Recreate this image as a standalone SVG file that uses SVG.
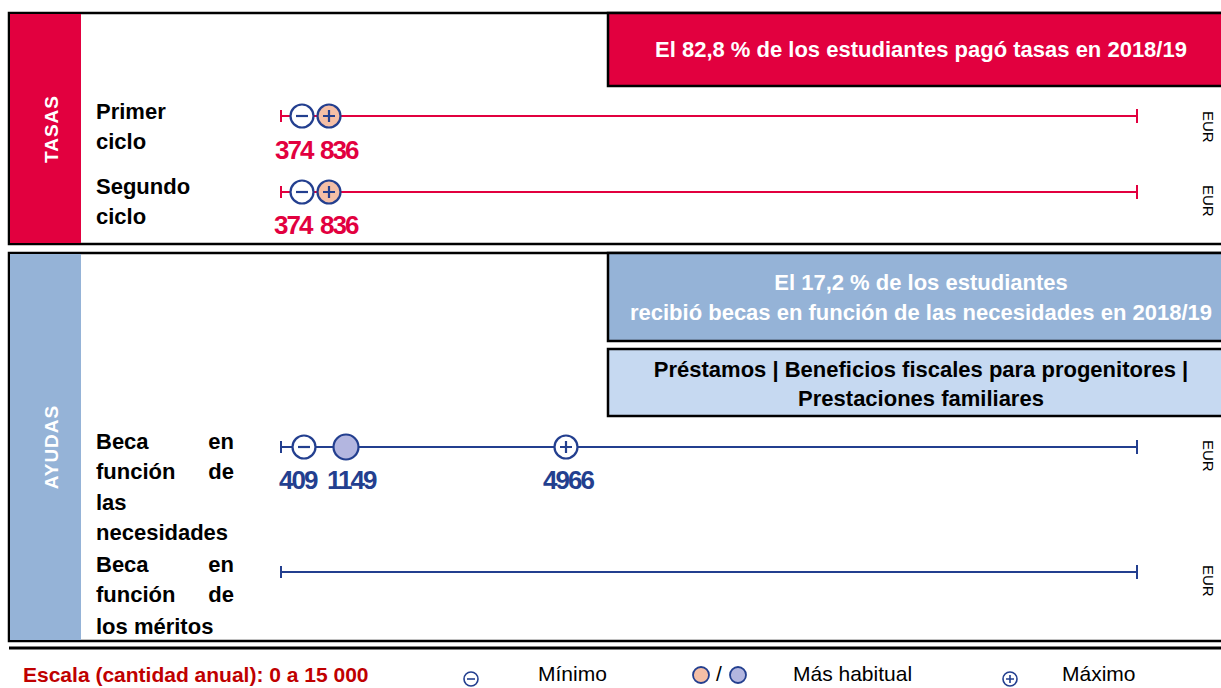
<svg xmlns="http://www.w3.org/2000/svg" width="1221" height="688" viewBox="0 0 1221 688">
<style>
.frame{stroke:#000;stroke-width:2.5}
.white{fill:#fff}
.red{fill:#E2003F}
.blue{fill:#95B3D7}
.light{fill:#C6D9F1}
.lbl{font-family:"Liberation Sans",Arial,sans-serif;font-weight:bold;font-size:22px;fill:#000}
.side{font-family:"Liberation Sans",Arial,sans-serif;font-weight:bold;font-size:19px;fill:#fff;letter-spacing:1px}
.callw{font-family:"Liberation Sans",Arial,sans-serif;font-weight:bold;font-size:22px;fill:#fff}
.callb{font-family:"Liberation Sans",Arial,sans-serif;font-weight:bold;font-size:22px;fill:#000}
.numr{font-family:"Liberation Sans",Arial,sans-serif;font-weight:bold;font-size:26px;fill:#E2003F;letter-spacing:-2px}
.numb{font-family:"Liberation Sans",Arial,sans-serif;font-weight:bold;font-size:26px;fill:#233F8F;letter-spacing:-2px}
.eur{font-family:"Liberation Sans",Arial,sans-serif;font-size:15px;fill:#000}
.leg{font-family:"Liberation Sans",Arial,sans-serif;font-size:21px;fill:#000}
.scale{font-family:"Liberation Sans",Arial,sans-serif;font-weight:bold;font-size:21px;fill:#C00000}
.lr{stroke:#E2003F;stroke-width:2;fill:none}
.lb{stroke:#233F8F;stroke-width:2;fill:none}
.cmin{fill:#fff;stroke:#233F8F;stroke-width:2.2}
.cmaxr{fill:#F5BFA6;stroke:#233F8F;stroke-width:2.2}
.cmaxb{fill:#fff;stroke:#233F8F;stroke-width:2.2}
.cmode{fill:#B3B6E0;stroke:#233F8F;stroke-width:2.2}
.sign{stroke:#233F8F;stroke-width:2.2;fill:none}
</style>

<g id="tasas-panel">
<rect x="9" y="13" width="1216" height="231" class="frame white"/>
<rect x="10" y="14" width="71" height="229" class="red"/>
<text class="side" transform="translate(58,129) rotate(-90)" text-anchor="middle">TASAS</text>
</g>

<g id="tasas-callout">
<rect x="608" y="13" width="617" height="73" class="frame red"/>
<text class="callw" x="921" y="57" text-anchor="middle">El 82,8 % de los estudiantes pagó tasas en 2018/19</text>
</g>

<g id="ayudas-panel">
<rect x="9" y="253" width="1216" height="388" class="frame white"/>
<rect x="10" y="254" width="71" height="386" class="blue"/>
<text class="side" transform="translate(58,447) rotate(-90)" text-anchor="middle">AYUDAS</text>
</g>

<g id="ayudas-callout">
<rect x="608" y="253" width="617" height="88" class="frame blue"/>
<text class="callw" x="921" y="290" text-anchor="middle">El 17,2 % de los estudiantes</text>
<text class="callw" x="921" y="320" text-anchor="middle">recibió becas en función de las necesidades en 2018/19</text>
</g>

<g id="otras-ayudas">
<rect x="608" y="349" width="617" height="67" class="frame light"/>
<text class="callb" x="921" y="377" text-anchor="middle">Préstamos | Beneficios fiscales para progenitores |</text>
<text class="callb" x="921" y="406" text-anchor="middle">Prestaciones familiares</text>
</g>

<line x1="9" y1="648" x2="1221" y2="648" stroke="#000" stroke-width="3"/>

<g id="connectors">
<path class="lr" d="M281 116H1137M281 110V122M1137 109V123"/>
<path class="lr" d="M281 192H1137M281 186V198M1137 185V199"/>
<path class="lb" d="M281 447H1137M281 441V453M1137 440V454"/>
<path class="lb" d="M281 572H1137M281 566V578M1137 565V579"/>
</g>

<g id="primer-ciclo">
<text class="lbl" x="96" y="119">Primer</text>
<text class="lbl" x="96" y="149">ciclo</text>
<circle class="cmin" cx="302" cy="116" r="11.5"/>
<path class="sign" d="M296 116H308"/>
<circle class="cmaxr" cx="329" cy="116" r="11.5"/>
<path class="sign" d="M323 116H335M329 110V122"/>
<text class="numr" x="275" y="159">374</text>
<text class="numr" x="320" y="159">836</text>
<text class="eur" transform="translate(1203,111) rotate(90)">EUR</text>
</g>

<g id="segundo-ciclo">
<text class="lbl" x="96" y="194">Segundo</text>
<text class="lbl" x="96" y="224">ciclo</text>
<circle class="cmin" cx="302" cy="192" r="11.5"/>
<path class="sign" d="M296 192H308"/>
<circle class="cmaxr" cx="329" cy="192" r="11.5"/>
<path class="sign" d="M323 192H335M329 186V198"/>
<text class="numr" x="274" y="234">374</text>
<text class="numr" x="320" y="234">836</text>
<text class="eur" transform="translate(1203,185) rotate(90)">EUR</text>
</g>

<g id="beca-necesidades">
<text class="lbl" x="96" y="449">Beca</text>
<text class="lbl" x="234" y="449" text-anchor="end">en</text>
<text class="lbl" x="96" y="479">función</text>
<text class="lbl" x="234" y="479" text-anchor="end">de</text>
<text class="lbl" x="96" y="510">las</text>
<text class="lbl" x="96" y="540">necesidades</text>
<circle class="cmin" cx="304" cy="447" r="11.5"/>
<path class="sign" d="M298 447H310"/>
<circle class="cmode" cx="346" cy="447" r="12.5"/>
<circle class="cmaxb" cx="566" cy="447" r="11.5"/>
<path class="sign" d="M560 447H572M566 441V453"/>
<text class="numb" x="279" y="489">409</text>
<text class="numb" x="327" y="489">1149</text>
<text class="numb" x="543" y="489">4966</text>
<text class="eur" transform="translate(1203,440) rotate(90)">EUR</text>
</g>

<g id="beca-meritos">
<text class="lbl" x="96" y="572">Beca</text>
<text class="lbl" x="234" y="572" text-anchor="end">en</text>
<text class="lbl" x="96" y="602">función</text>
<text class="lbl" x="234" y="602" text-anchor="end">de</text>
<text class="lbl" x="96" y="634">los méritos</text>
<text class="eur" transform="translate(1203,565) rotate(90)">EUR</text>
</g>

<g id="legend">
<text class="scale" x="23" y="682">Escala (cantidad anual): 0 a 15 000</text>
<circle cx="471" cy="679" r="7" fill="#fff" stroke="#233F8F" stroke-width="1.6"/>
<path d="M467 679H475" stroke="#233F8F" stroke-width="1.6"/>
<text class="leg" x="538" y="681">Mínimo</text>
<circle cx="701" cy="675" r="8" fill="#F5BFA6" stroke="#233F8F" stroke-width="1.8"/>
<text class="leg" x="719" y="681" text-anchor="middle">/</text>
<circle cx="738" cy="675" r="8" fill="#B3B6E0" stroke="#233F8F" stroke-width="1.8"/>
<text class="leg" x="793" y="681">Más habitual</text>
<circle cx="1010" cy="679" r="7" fill="#fff" stroke="#233F8F" stroke-width="1.6"/>
<path d="M1006 679H1014M1010 675V683" stroke="#233F8F" stroke-width="1.6"/>
<text class="leg" x="1062" y="681">Máximo</text>
</g>
</svg>
